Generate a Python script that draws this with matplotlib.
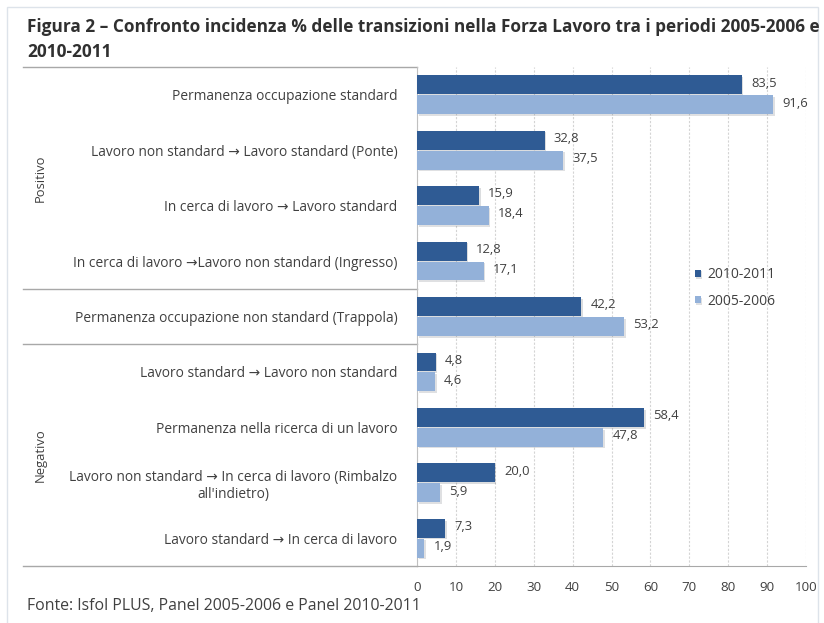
import numpy as np
import matplotlib
matplotlib.use('Agg')
import matplotlib.pyplot as plt
import matplotlib.patheffects as pe

plt.rcParams['font.family'] = ['Open Sans', 'DejaVu Sans']

categorie = [
    "Permanenza occupazione standard",
    "Lavoro non standard \u2192 Lavoro standard (Ponte)",
    "In cerca di lavoro \u2192 Lavoro standard",
    "In cerca di lavoro \u2192Lavoro non standard (Ingresso)",
    "Permanenza occupazione non standard (Trappola)",
    "Lavoro standard \u2192 Lavoro non standard",
    "Permanenza nella ricerca di un lavoro",
    "Lavoro non standard \u2192 In cerca di lavoro (Rimbalzo\nall'indietro)",
    "Lavoro standard \u2192 In cerca di lavoro",
]
v_2010_2011 = [83.5, 32.8, 15.9, 12.8, 42.2, 4.8, 58.4, 20.0, 7.3]
v_2005_2006 = [91.6, 37.5, 18.4, 17.1, 53.2, 4.6, 47.8, 5.9, 1.9]
xticks = np.arange(0, 101, 10)

scuro = '#2f5b94'
chiaro = '#93b1d9'
grigio = '#404040'

fig = plt.figure(figsize=(8.24, 6.23), dpi=100)
ax = fig.add_axes([417/824, 1 - 566/623, (806 - 417)/824, (566 - 67)/623])

y = np.arange(len(categorie))
h = 0.34
ombra = [pe.SimplePatchShadow(offset=(1.2, -1.2), alpha=0.15), pe.Normal()]
b1 = ax.barh(y - 0.18, v_2010_2011, height=h, color=scuro, label='2010-2011',
             path_effects=ombra, zorder=3)
b2 = ax.barh(y + 0.18, v_2005_2006, height=h, color=chiaro, label='2005-2006',
             path_effects=ombra, zorder=3)

for bars, vals in ((b1, v_2010_2011), (b2, v_2005_2006)):
    for r, v in zip(bars, vals):
        ax.text(v + 2.4, r.get_y() + r.get_height()/2 - 0.03,
                f"{v:.1f}".replace('.', ','), va='center', ha='left',
                fontsize=9.4, color=grigio)

ax.set_xlim(0, 100)
ax.set_ylim(len(categorie) - 0.5, -0.5)
ax.set_xticks(xticks)
ax.set_xticklabels([str(t) for t in xticks], fontsize=9.6, color=grigio)
ax.set_yticks(y)
ax.set_yticklabels(categorie, fontsize=9.9, color=grigio)
for lab in ax.get_yticklabels():
    lab.set_multialignment('center')
ax.tick_params(axis='both', length=0)
ax.tick_params(axis='x', pad=11)
ax.tick_params(axis='y', pad=14)

ax.grid(axis='x', color='#d4d4d4', lw=0.8, ls=(0, (2, 1.5)), zorder=0)
for s in ['top', 'right']:
    ax.spines[s].set_visible(False)
ax.spines['left'].set_color('#c0c0c0')
ax.spines['bottom'].set_color('#a8a8a8')

# separatori dei gruppi nella zona delle etichette
tr = ax.get_yaxis_transform()
x0 = (23 - 417) / (806 - 417)
for yb in [-0.5, 3.5, 4.5, 8.5]:
    ax.plot([x0, 0], [yb, yb], color='#a8a8a8', lw=1.0, transform=tr, clip_on=False)

gx = (40 - 417) / (806 - 417)
ax.text(gx, 1.5, 'Positivo', rotation=90, ha='center', va='center',
        fontsize=9.4, color=grigio, transform=tr)
ax.text(gx, 6.5, 'Negativo', rotation=90, ha='center', va='center',
        fontsize=9.4, color=grigio, transform=tr)

ax.legend(loc='upper left', bbox_to_anchor=(682/824, 1 - 255/623),
          bbox_transform=fig.transFigure, frameon=False, fontsize=10,
          handlelength=0.45, handleheight=0.45, handletextpad=0.45,
          labelspacing=0.8, labelcolor=grigio)

fig.text(27/824, 1 - 27/623,
         "Figura 2 \u2013 Confronto incidenza % delle transizioni nella Forza Lavoro tra i periodi 2005-2006 e",
         fontsize=12.4, fontweight='bold', color='#303030', va='center')
fig.text(27/824, 1 - 52/623, "2010-2011", fontsize=12.4, fontweight='bold',
         color='#303030', va='center')
fig.text(27/824, 1 - 606/623, "Fonte: Isfol PLUS, Panel 2005-2006 e Panel 2010-2011",
         fontsize=11.4, color='#404040', va='center')

# cornice esterna
fig.add_artist(plt.Rectangle((7/824, -0.01), (818 - 7)/824, 1 - 7/623 + 0.01,
                             transform=fig.transFigure, fill=False,
                             ec='#dde3ea', lw=1.0))

fig.savefig('out.png', dpi=100)
